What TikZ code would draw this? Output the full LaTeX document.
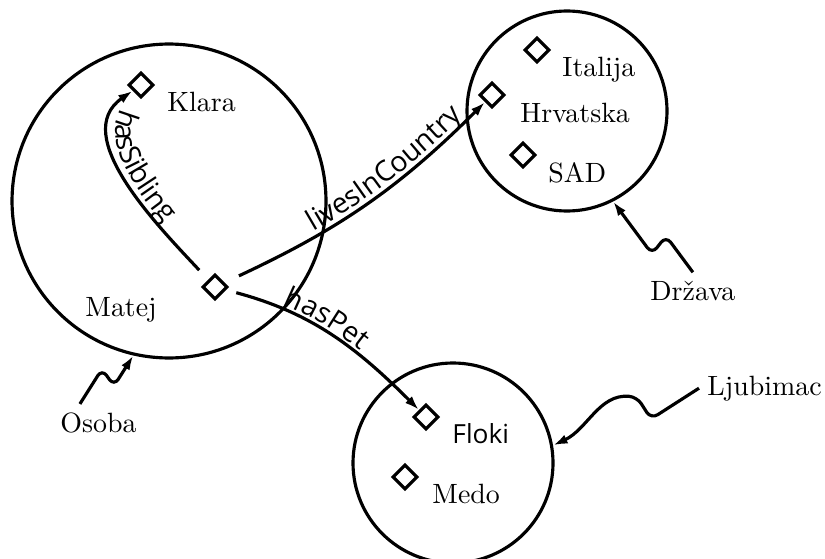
\documentclass[tikz,border=0pt]{standalone}
\usepackage{fontspec}
\setsansfont{Open Sans}
\usepackage{tikz}
\usetikzlibrary{arrows.meta,shapes.geometric,decorations.text}

\newcommand{\vezafont}{\sffamily\fontsize{10.8}{13}\selectfont}

\begin{document}
\begin{tikzpicture}[
			x=0.38pt, y=0.38pt,
			font=\fontsize{10.6}{12.7}\selectfont,
			skup/.style   = {draw, circle, very thick, inner sep=0pt},
			elem/.style   = {draw, diamond, very thick, inner sep=0pt, minimum size=9.5pt},
			ime/.style    = {anchor=base west, inner sep=3pt},
			veza/.style   = {->, very thick},
			vijuga/.style = {->, very thick, rounded corners=3pt},
			natpis/.style = {decorate, decoration={text along path, raise=1.8pt, text={|\vezafont|#1}}},
			>={Latex[length=5.5pt,width=3.6pt]}]
			
			\useasboundingbox (0,0) rectangle (825,-558);
			
			% the three sets
			\node[skup, minimum size=119.3pt] (osobaSet) at (169,-201) {};
			\node[skup, minimum size=76pt] (drzSet) at (567,-111) {};
			\node[skup, minimum size=76pt] (ljubSet) at (453,-463) {};
			
			% elements of the sets
			\foreach \ime/\x/\y in {klara/141/85, matej/215/287, italija/537/50, hrv/492/95, sad/523/155, floki/426/417, medo/405/477}
			\node[elem] (\ime) at (\x,-\y) {};
			
			% element names
			\node[ime] (tKlara) at (159,-112) {Klara};
			\node[ime] (tMatej) at (77,-316) {Matej};
			\node[ime] (tItalija) at (554,-77) {Italija};
			\node[ime] (tHrv) at (512,-122) {Hrvatska};
			\node[ime] (tSad) at (540,-182) {SAD};
			\node[ime, font=\sffamily] (tFloki) at (444,-443) {Floki};
			\node[ime] (tMedo) at (424,-503) {Medo};
			
			% set names
			\node[ime] (lOsoba) at (52,-432) {Osoba};
			\node[ime] (lDrz) at (642,-300) {Država};
			\node[ime] (lLjub) at (699,-395) {Ljubimac};
			
			% relations
			\draw[veza, shorten <=5pt] (matej) .. controls +(-58,62) and +(-72,-50) .. (klara);
			\path[natpis=hasSibling, decoration={text align={left indent=9pt}}] (klara) .. controls +(-72,-50) and +(-58,62) .. (matej);
			
			\draw[veza, shorten <=6pt] (matej) to[out=25,in=-135] (hrv);
			\path[natpis=livesInCountry, decoration={text align={align=right, right indent=10pt}}] (matej) to[out=25,in=-135] (hrv);
			
			\draw[veza, shorten <=4pt] (matej) to[out=-15,in=135] (floki);
			\path[natpis=hasPet, decoration={text align={left indent=22pt}}] (matej) to[out=-15,in=135] (floki);
			
			% set names point to their sets
			\draw[vijuga] (lOsoba.135) -- (102,-369) -- (114,-386) -- (osobaSet.257);
			\draw[vijuga] (lDrz.north) -- (666,-236) -- (652,-254) -- (drzSet.-63);
			\draw[vijuga] (lLjub.west) -- (651,-419) -- (637,-397) to[out=175,in=25] (ljubSet.10);
		\end{tikzpicture}
\end{document}
